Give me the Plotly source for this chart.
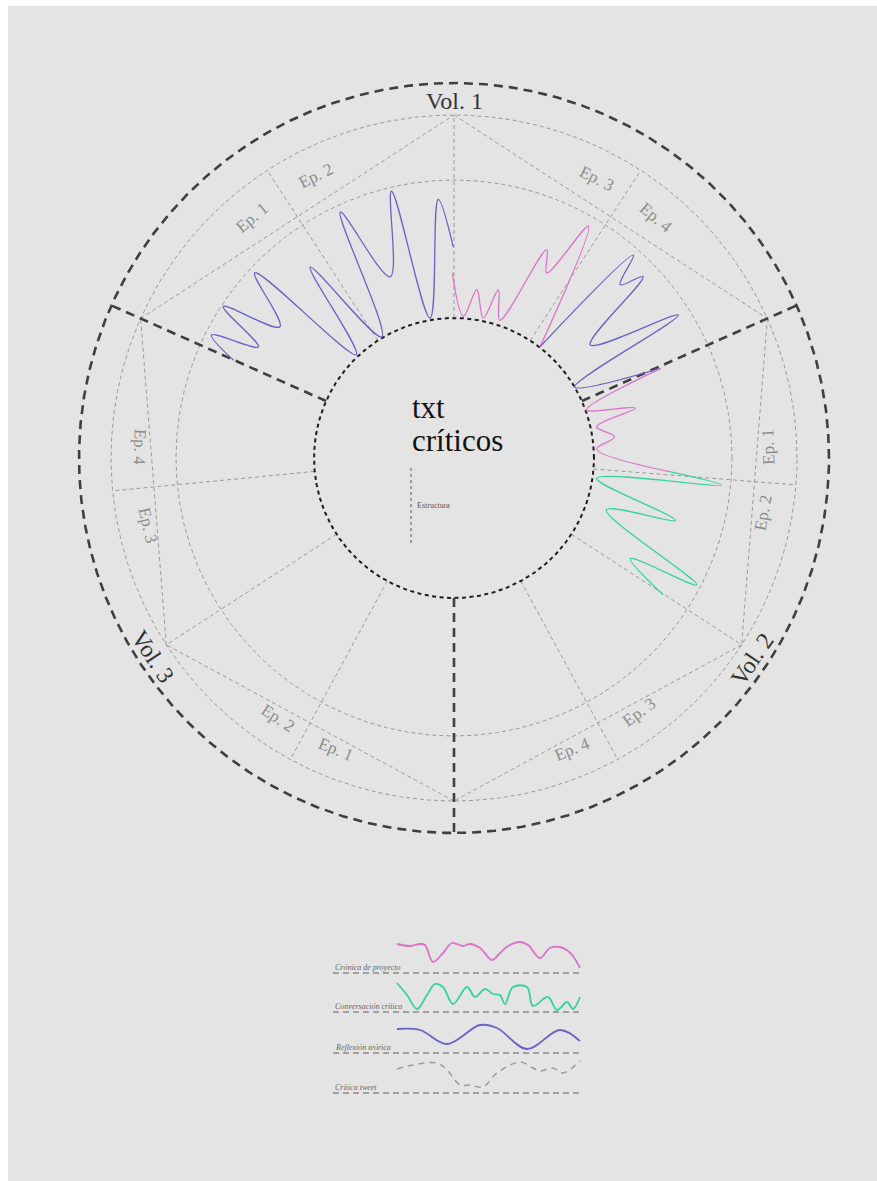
import numpy as np
import plotly.graph_objects as go

# ---------------- geometry (data units = screen pixels, wheel centre at 0,0) ----
R_INNER = 140
R_MID = 278
R_GREY = 343
R_OUTER = 375

VOL_BOUNDS = [24, 156, 270]            # thick dashed radial lines (deg)
VOL_MIDS = [90, 327, 213]              # hexagon vertices between bounds
QUARTERS = [57, 123, 355.5, 298.5, 241.5, 185.5]  # episode separators

VOL_LABELS = ["Vol. 1", "Vol. 2", "Vol. 3"]
VOL_THETA = [90, 326, 213.5]
VOL_R = [357, 360, 361]

EP_LABELS = ["Ep. 1", "Ep. 2", "Ep. 3", "Ep. 4",
             "Ep. 1", "Ep. 2", "Ep. 3", "Ep. 4",
             "Ep. 1", "Ep. 2", "Ep. 3", "Ep. 4"]
EP_THETA = [130, 116, 63, 50, 2, 350, 306, 292, 248, 236, 192.5, 178]
EP_VOL = [1, 1, 1, 1, 2, 2, 2, 2, 3, 3, 3, 3]
EP_R = 314

# ---------------- series (theta deg, radius) -------------------------------------
blue_a_theta = [156.1, 153.1, 150.4, 146.7, 143.0, 137.1, 133.4, 127.0, 120.8,
                114.8, 109.4, 103.2, 99.7, 93.5, 90.2]
blue_a_r = [241, 272, 225, 276, 218, 272, 142, 239, 141, 271, 192, 274, 142, 259, 211]

pink_a_theta = [90.5, 86.2, 82.3, 78.2, 75.2, 71.6, 66.0, 63.4, 59.9, 52.3]
pink_a_r = [185, 142, 170, 143, 174, 145, 228, 207, 268, 141]

blue_b_theta = [52.3, 48.5, 46.2, 43.8, 39.7, 32.5, 30.5, 23.5]
blue_b_r = [141, 271, 240, 262, 177, 266, 140, 225]

pink_b_theta = [23.4, 19.9, 15.4, 12.4, 7.5, 3.6, 356.4]
pink_b_r = [225, 141, 188, 146, 162, 143, 216]

green_b_theta = [356.4, 354.2, 351.9, 344.3, 341.2, 332.4, 330.3, 326.8]
green_b_r = [216, 269, 144, 230, 161, 274, 203, 250]

# ---------------- legend series (pixel x, height above baseline) -----------------
LEG_NAMES = ["Crónica de proyecto", "Conversación crítica", "Reflexión teórica", "Crítica tweet"]
LEG_BASE_PY = [973, 1012, 1053, 1093]

leg_pink_x = [397, 410, 420, 425, 433, 443, 452, 463, 470, 480, 492, 500, 508, 520,
              528, 540, 550, 560, 568, 573, 580]
leg_pink_h = [29, 27, 29, 28, 11, 20, 30, 27, 29, 25, 13, 20, 27, 31, 28, 15, 25, 26,
              22, 17, 5]
leg_green_x = [397, 407, 417, 427, 435, 443, 453, 467, 475, 485, 493, 500, 505, 513,
               527, 533, 548, 557, 567, 573, 580]
leg_green_h = [29, 17, 3, 17, 28, 25, 8, 25, 15, 23, 18, 17, 8, 25, 25, 6, 15, 2, 10,
               3, 15]
leg_blue_x = [397, 420, 447, 480, 497, 527, 560, 580]
leg_blue_h = [24, 23, 9, 28, 25, 4, 23, 12]
leg_grey_x = [397, 413, 437, 447, 460, 470, 483, 497, 520, 533, 540, 553, 563, 580]
leg_grey_h = [24, 28, 30, 23, 8, 8, 6, 20, 31, 25, 22, 25, 20, 32]

# ---------------- styling ---------------------------------------------------------
BG = "#e4e4e4"
PINK = "#dc72c8"
GREEN = "#35d39c"
BLUE = "#6a62c6"
GREY = "#9b9b9b"
DARK = "#3f3f3f"
SERIF = "Liberation Serif, Times New Roman, serif"

PAGE_W, PAGE_H = 877, 1181
OFF_X, OFF_Y = 8, 6          # white page margin seen in the reference
W, H = PAGE_W - OFF_X, PAGE_H - OFF_Y
CXP, CYP = 454, 458          # screen pixel position of the wheel centre


def pol(theta, r):
    t = np.radians(np.asarray(theta, dtype=float))
    r = np.asarray(r, dtype=float)
    return r * np.cos(t), r * np.sin(t)


def px(x):
    return np.asarray(x, dtype=float) - CXP


def py(y):
    return CYP - np.asarray(y, dtype=float)


fig = go.Figure()


def add_line(x, y, color, width, dash="solid", shape="linear"):
    fig.add_trace(go.Scatter(x=x, y=y, mode="lines", hoverinfo="skip",
                             line=dict(color=color, width=width, dash=dash,
                                       shape=shape, smoothing=1.0)))


full = np.linspace(0, 360, 1441)

# grey dashed circles
for rr in [R_MID, R_GREY]:
    x, y = pol(full, np.full_like(full, rr))
    add_line(x, y, GREY, 1, "4px,3px")

# grey radial lines (mid vertices + episode separators)
for a in VOL_MIDS + QUARTERS:
    x, y = pol([a, a], [R_INNER, R_GREY])
    add_line(x, y, GREY, 1, "4px,3px")

# hexagon chords
for b, m in [(156, 90), (90, 24), (24, 327), (327, 270), (270, 213), (213, 156)]:
    x, y = pol([b, m], [R_GREY, R_GREY])
    add_line(x, y, GREY, 1, "4px,3px")

# thick outer circle and volume bounds
x, y = pol(full, np.full_like(full, R_OUTER))
add_line(x, y, DARK, 2.6, "9px,6px")
for a in VOL_BOUNDS:
    x, y = pol([a, a], [R_INNER, R_OUTER])
    add_line(x, y, DARK, 2.6, "9px,6px")

# inner black circle
x, y = pol(full, np.full_like(full, R_INNER))
add_line(x, y, "#1e1e1e", 2, "4px,3.5px")

# data curves
for th, rr, col in [(blue_a_theta, blue_a_r, BLUE), (pink_a_theta, pink_a_r, PINK),
                    (blue_b_theta, blue_b_r, BLUE), (pink_b_theta, pink_b_r, PINK),
                    (green_b_theta, green_b_r, GREEN)]:
    x, y = pol(th, rr)
    add_line(x, y, col, 1.3, "solid", "spline")

# "Estructura" marker
add_line(px([411, 411]), py([468, 543]), "#555", 1, "3px,3px")

# legend
leg_series = [(leg_pink_x, leg_pink_h, PINK, "solid", 1.8),
              (leg_green_x, leg_green_h, GREEN, "solid", 1.8),
              (leg_blue_x, leg_blue_h, BLUE, "solid", 1.8),
              (leg_grey_x, leg_grey_h, GREY, "6px,5px", 1.5)]
for (lx, lh, col, dash, wd), base in zip(leg_series, LEG_BASE_PY):
    add_line(px(lx), py(base) + np.asarray(lh, dtype=float), col, wd, dash, "spline")
    add_line(px([333, 580]), py([base, base]), "#8a8a8a", 1.3, "6px,4px")

annotations = []
for txt, th, rr in zip(VOL_LABELS, VOL_THETA, VOL_R):
    x, y = pol([th], [rr])
    ang = 90 - th if th <= 180 else 270 - th
    ang = (ang + 180) % 360 - 180
    annotations.append(dict(x=float(x[0]), y=float(y[0]), text=txt, showarrow=False,
                            textangle=ang, font=dict(family=SERIF, size=24, color="#333")))

for txt, th, vol in zip(EP_LABELS, EP_THETA, EP_VOL):
    x, y = pol([th], [EP_R])
    ang = 90 - th if vol == 1 else 270 - th
    ang = (ang + 180) % 360 - 180
    annotations.append(dict(x=float(x[0]), y=float(y[0]), text=txt, showarrow=False,
                            textangle=ang, font=dict(family=SERIF, size=17, color="#8c8c8c")))

annotations.append(dict(x=float(px(410)), y=float(py(407)), text="txt", showarrow=False,
                        xanchor="left", yanchor="middle",
                        font=dict(family=SERIF, size=31, color="#111")))
annotations.append(dict(x=float(px(410)), y=float(py(440)), text="críticos", showarrow=False,
                        xanchor="left", yanchor="middle",
                        font=dict(family=SERIF, size=31, color="#111")))
annotations.append(dict(x=float(px(415)), y=float(py(505)), text="Estructura", showarrow=False,
                        xanchor="left", yanchor="middle",
                        font=dict(family=SERIF, size=8, color="#555")))

for name, base in zip(LEG_NAMES, LEG_BASE_PY):
    annotations.append(dict(x=float(px(333)), y=float(py(base - 6)), text="<i>" + name + "</i>",
                            showarrow=False, xanchor="left", yanchor="middle",
                            font=dict(family=SERIF, size=8, color="#666")))

# figure spans screen pixels OFF_X..PAGE_W and OFF_Y..PAGE_H
fig.update_layout(
    width=W, height=H,
    margin=dict(l=0, r=0, t=0, b=0),
    paper_bgcolor=BG, plot_bgcolor=BG,
    showlegend=False,
    annotations=annotations,
    xaxis=dict(range=[OFF_X - CXP, OFF_X + W - CXP], visible=False, fixedrange=True),
    yaxis=dict(range=[CYP - OFF_Y - H, CYP - OFF_Y], visible=False, fixedrange=True,
               scaleanchor="x", scaleratio=1),
)

fig.write_html(
    "out.html",
    config={"displayModeBar": False},
    post_script=("document.body.style.margin='0';"
                 "document.body.style.padding='" + str(OFF_Y) + "px 0 0 " + str(OFF_X) + "px';"
                 "document.body.style.overflow='hidden';"
                 "document.body.style.background='#ffffff';"),
)
